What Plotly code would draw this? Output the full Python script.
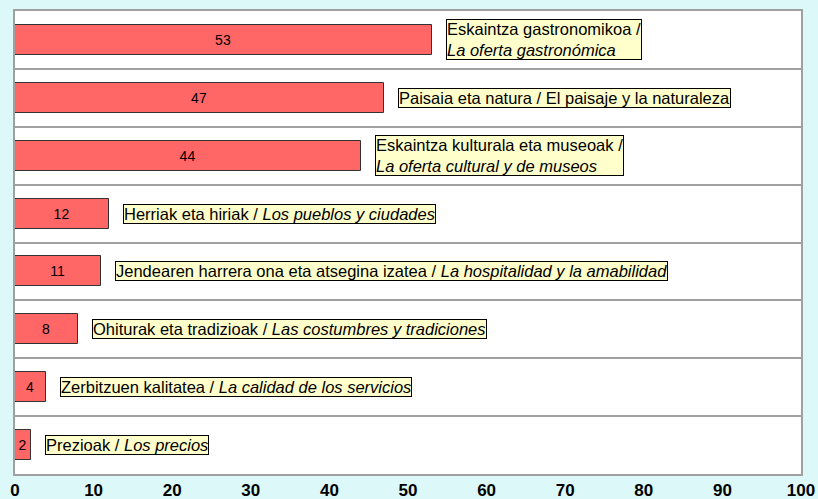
import plotly.graph_objects as go

labels_eu = ["Eskaintza gastronomikoa /", "Paisaia eta natura", "Eskaintza kulturala eta museoak /",
             "Herriak eta hiriak", "Jendearen harrera ona eta atsegina izatea", "Ohiturak eta tradizioak",
             "Zerbitzuen kalitatea", "Prezioak"]
labels_es = ["La oferta gastronómica", "El paisaje y la naturaleza", "La oferta cultural y de museos",
             "Los pueblos y ciudades", "La hospitalidad y la amabilidad", "Las costumbres y tradiciones",
             "La calidad de los servicios", "Los precios"]
values = [53, 47, 44, 12, 11, 8, 4, 2]
two_line = [True, False, True, False, False, False, False, False]
italic_es = [True, False, True, True, True, True, True, True]
x_ticks = [0, 10, 20, 30, 40, 50, 60, 70, 80, 90, 100]

pos = list(range(len(values)))

fig = go.Figure()
fig.add_trace(go.Bar(
    x=values, y=pos, orientation="h", width=0.52,
    marker=dict(color="#FF6666", line=dict(color="#333333", width=1)),
    text=[str(v) for v in values], textposition="inside", insidetextanchor="middle",
    textfont=dict(family="Arial, Liberation Sans", size=14, color="black"),
    constraintext="none", hoverinfo="skip",
))

for i, v in enumerate(values):
    es = f"<i>{labels_es[i]}</i>" if italic_es[i] else labels_es[i]
    if two_line[i]:
        txt = f"{labels_eu[i]}<br>{es}"
    else:
        txt = f"{labels_eu[i]} / {es}"
    fig.add_annotation(
        x=v, y=i, text=txt, showarrow=False, xanchor="left", yanchor="middle",
        xshift=14, align="left",
        font=dict(family="Arial, Liberation Sans", size=16.5, color="black"),
        bgcolor="#FFFFCC", bordercolor="black", borderwidth=1, borderpad=0,
    )

fig.update_layout(
    width=818, height=499,
    margin=dict(l=15, r=17, t=11, b=25),
    paper_bgcolor="#DDF8F8", plot_bgcolor="white",
    showlegend=False, bargap=0,
    xaxis=dict(range=[0, 100], tickvals=x_ticks, ticktext=[f"<b>{t}</b>" for t in x_ticks],
               tickfont=dict(family="Arial, Liberation Sans", size=17, color="black"),
               showgrid=False, zeroline=False, showline=True, mirror=True, automargin=False,
               linecolor="#A0A0A0", linewidth=2, ticks=""),
    yaxis=dict(range=[len(values) - 0.5, -0.5], tickvals=[p + 0.5 for p in pos[:-1]],
               showticklabels=False, showgrid=True, gridcolor="#A0A0A0", gridwidth=2, automargin=False,
               zeroline=False, showline=True, mirror=True, linecolor="#A0A0A0", linewidth=2, ticks=""),
)

fig.write_html("out.html", config={"displayModeBar": False},
               post_script="document.body.style.margin='0';document.body.style.overflow='hidden';")
